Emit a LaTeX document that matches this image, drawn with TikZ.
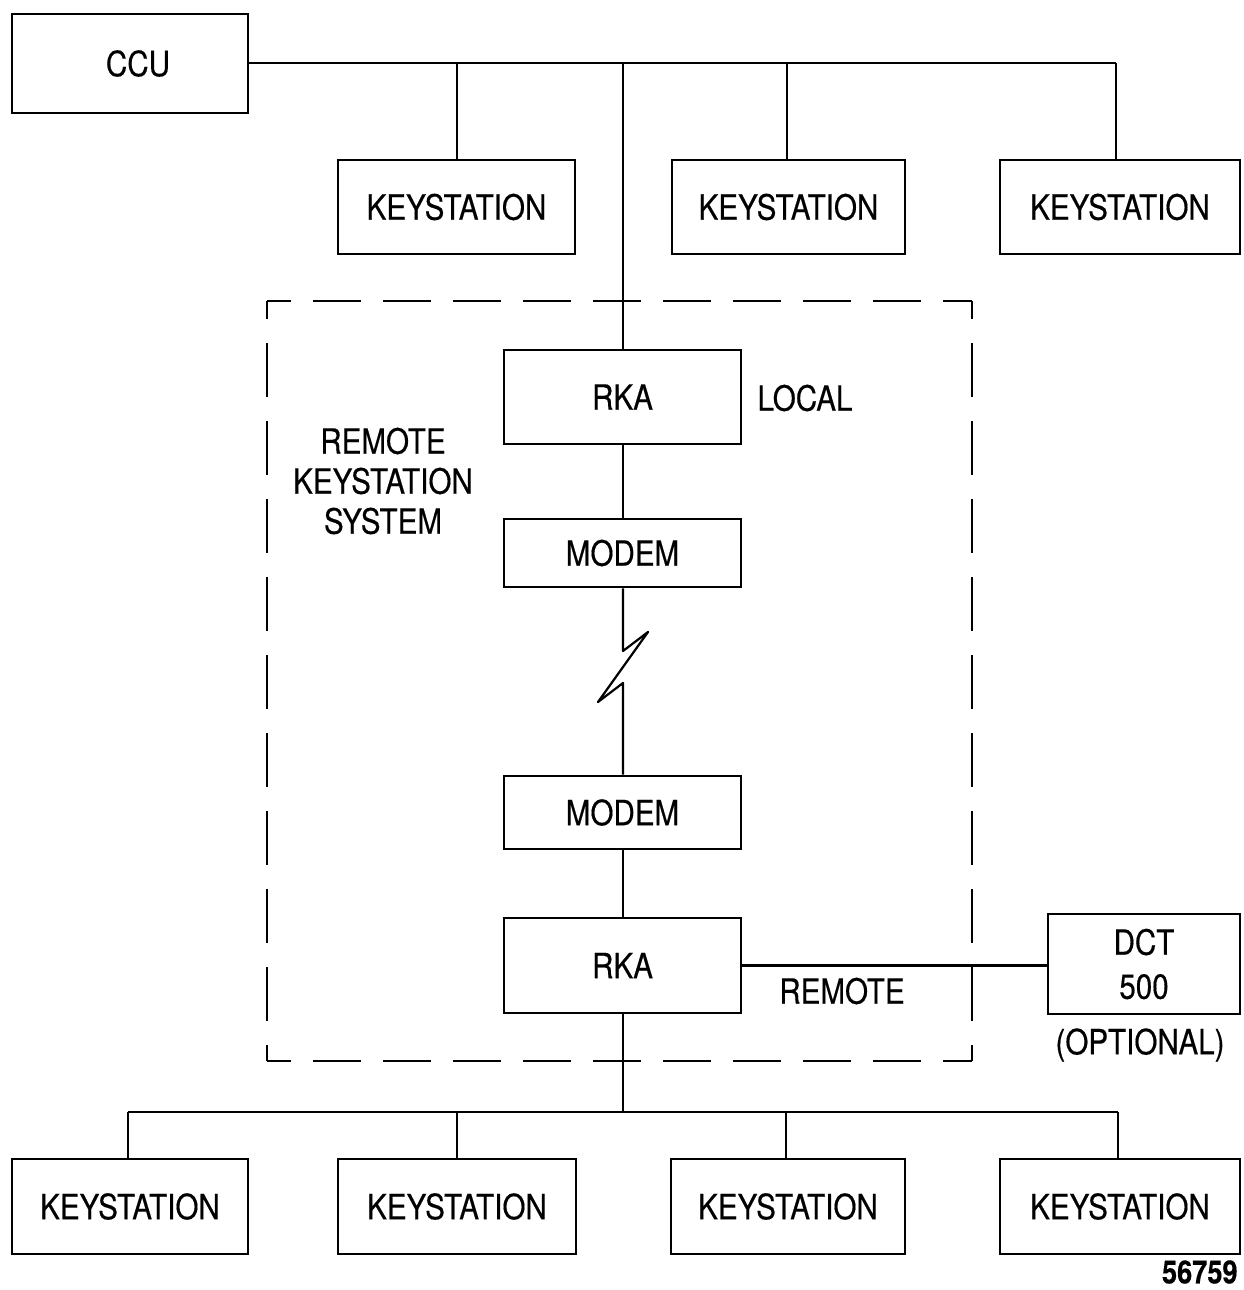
\documentclass[tikz,border=0pt]{standalone}
\usepackage{fontspec}
\setmainfont{TeX Gyre Heros}[FakeStretch=0.85,FakeBold=0.4]
\begin{document}
\begin{tikzpicture}[x=0.5pt,y=-0.5pt,
  box/.style={draw,line width=1.4pt,inner sep=0pt,font=\fontsize{17.4pt}{22pt}\selectfont},
  lbl/.style={inner sep=0pt,font=\fontsize{17.4pt}{22pt}\selectfont},
  wire/.style={line width=1.1pt}]
\useasboundingbox (0,0) rectangle (1243,1290);
% top
\node[box,minimum width=118pt,minimum height=49.5pt] (ccu) at (130,63.5) {\hspace*{8pt}CCU};
\node[box,minimum width=118.5pt,minimum height=47pt] (ks1) at (456.5,207) {KEYSTATION};
\node[box,minimum width=116.5pt,minimum height=47pt] (ks2) at (788.5,207) {KEYSTATION};
\node[box,minimum width=120pt,minimum height=47pt] (ks3) at (1120,207) {KEYSTATION};
\coordinate (b1) at (457,63);
\coordinate (b2) at (623,63);
\coordinate (b3) at (787,63);
\coordinate (b4) at (1116,63);
% middle
\node[box,minimum width=118.5pt,minimum height=47pt] (rka1) at (622.5,397) {RKA};
\node[box,minimum width=118.5pt,minimum height=34pt] (modem1) at (622.5,553) {MODEM};
\node[box,minimum width=118.5pt,minimum height=36.5pt] (modem2) at (622.5,812.5) {MODEM};
\node[box,minimum width=118.5pt,minimum height=47.5pt] (rka2) at (622.5,965.5) {RKA};
\node[box,minimum width=96pt,minimum height=50pt,align=center,font=\fontsize{17.4pt}{22pt}\selectfont] (dct) at (1144,964) {DCT\\500};
\node[lbl] (local) at (805,398) {LOCAL};
\node[lbl] (remote) at (842,991) {REMOTE};
\node[lbl] (opt) at (1140,1045) {(OPTIONAL)};
\node[lbl,align=center,font=\fontsize{17.4pt}{20pt}\selectfont] (rks) at (383,481) {REMOTE\\KEYSTATION\\SYSTEM};
% dashed enclosure
\coordinate (d1) at (267,301);
\coordinate (d2) at (972,301);
\coordinate (d3) at (972,1061);
\coordinate (d4) at (267,1061);
\draw[line width=1.3pt,dash pattern=on 24pt off 11pt,dash phase=12pt] (d1) -- (d2);
\draw[line width=1.3pt,dash pattern=on 24pt off 11pt,dash phase=12pt] (d4) -- (d3);
\draw[line width=1.3pt,dash pattern=on 27pt off 12pt,dash phase=18pt] (d1) -- (d4);
\draw[line width=1.3pt,dash pattern=on 27pt off 12pt,dash phase=18pt] (d2) -- (d3);
% zigzag coordinates
\coordinate (z1) at (623,651);
\coordinate (z2) at (648,632);
\coordinate (z3) at (598,702);
\coordinate (z4) at (623,683);
% bottom
\node[box,minimum width=118pt,minimum height=47.5pt] (bk1) at (130,1206.5) {KEYSTATION};
\node[box,minimum width=119pt,minimum height=47.5pt] (bk2) at (457,1206.5) {KEYSTATION};
\node[box,minimum width=117pt,minimum height=47.5pt] (bk3) at (788,1206.5) {KEYSTATION};
\node[box,minimum width=120pt,minimum height=47.5pt] (bk4) at (1120,1206.5) {KEYSTATION};
\coordinate (c0) at (623,1112);
\coordinate (c1) at (128,1112);
\coordinate (c2) at (457,1112);
\coordinate (c3) at (786,1112);
\coordinate (c4) at (1118,1112);
\node[lbl,anchor=east,font=\fontsize{16pt}{20pt}\selectfont\bfseries] (num) at (1238,1272) {56759};
% wires
\draw[wire] (ccu.east |- b4) -- (b4);
\draw[wire] (b1) -- (b1 |- ks1.north);
\draw[wire] (b3) -- (b3 |- ks2.north);
\draw[wire] (b4) -- (b4 |- ks3.north);
\draw[wire] (b2) -- (b2 |- rka1.north);
\draw[wire] (rka1.south -| b2) -- (modem1.north -| b2);
\draw[wire,line join=round] (modem1.south -| z1) -- (z1) -- (z2) -- (z3) -- (z4) -- (modem2.north -| z4);
\draw[wire] (modem2.south -| c0) -- (rka2.north -| c0);
\draw[wire] (rka2.east) -- (dct.west |- rka2.east);
\draw[wire] (rka2.south -| c0) -- (c0);
\draw[wire] (c1) -- (c4);
\draw[wire] (c1) -- (c1 |- bk1.north);
\draw[wire] (c2) -- (c2 |- bk2.north);
\draw[wire] (c3) -- (c3 |- bk3.north);
\draw[wire] (c4) -- (c4 |- bk4.north);
\end{tikzpicture}
\end{document}
